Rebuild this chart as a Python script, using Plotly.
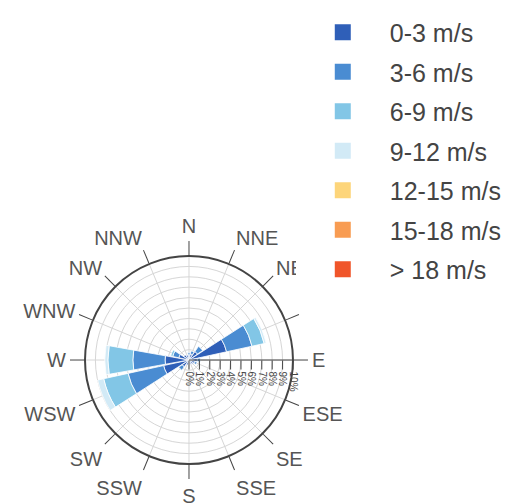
import plotly.graph_objects as go

directions = ["N", "NNE", "NE", "ENE", "E", "ESE", "SE", "SSE",
              "S", "SSW", "SW", "WSW", "W", "WNW", "NW", "NNW"]
direction_labels = ["N", "NNE", "NE", "", "E", "ESE", "SE", "SSE",
                    "S", "SSW", "SW", "WSW", "W", "WNW", "NW", "NNW"]

speed_bins = ["0-3 m/s", "3-6 m/s", "6-9 m/s", "9-12 m/s",
              "12-15 m/s", "15-18 m/s", "> 18 m/s"]

bin_colors = ["#2f5fb8", "#4a8cd2", "#82c6e6", "#d2eaf6",
              "#fdd57a", "#f89c52", "#f0552a"]

# frequency (%) per direction, one list per speed bin
freq_0_3 = [0.5, 0.6, 1.0, 3.7, 0.8, 0.6, 0.5, 0.4, 0.4, 0.5, 0.8, 2.5, 2.3, 1.0, 0.6, 0.5]
freq_3_6 = [0.2, 0.3, 0.6, 2.5, 0.3, 0.2, 0.0, 0.0, 0.0, 0.0, 0.4, 3.5, 3.1, 0.6, 0.0, 0.0]
freq_6_9 = [0.0, 0.0, 0.0, 1.2, 0.0, 0.0, 0.0, 0.0, 0.0, 0.0, 0.0, 2.4, 2.4, 0.2, 0.0, 0.0]
freq_9_12 = [0.0, 0.0, 0.0, 0.2, 0.0, 0.0, 0.0, 0.0, 0.0, 0.0, 0.0, 0.6, 0.3, 0.0, 0.0, 0.0]
freq_12_15 = [0.0] * 16
freq_15_18 = [0.0] * 16
freq_18_up = [0.0] * 16

series = [freq_0_3, freq_3_6, freq_6_9, freq_9_12, freq_12_15, freq_15_18, freq_18_up]

radial_ticks = [0, 1, 2, 3, 4, 5, 6, 7, 8, 9, 10]
radial_labels = [f"{v}%" for v in radial_ticks]

fig = go.Figure()
for name, color, values in zip(speed_bins, bin_colors, series):
    fig.add_trace(go.Barpolar(
        r=values,
        theta=directions,
        name=name,
        legendgroup=name,
        showlegend=False,
        marker=dict(color=color, line=dict(width=0.8, color="white")),
    ))

# legend keys: square swatches, one per speed bin (no plotted points)
for name, color in zip(speed_bins, bin_colors):
    fig.add_trace(go.Scatterpolar(
        r=[None],
        theta=[None],
        mode="markers",
        name=name,
        legendgroup=name,
        showlegend=True,
        marker=dict(symbol="square", size=16, color=color),
        hoverinfo="skip",
    ))

fig.update_layout(
    width=518,
    height=503,
    margin=dict(l=0, r=0, t=0, b=0),
    paper_bgcolor="white",
    font=dict(family="Liberation Sans, Arial, sans-serif", color="#444"),
    barmode="stack",
    showlegend=True,
    legend=dict(
        x=0.571, y=0.981, xanchor="left", yanchor="top",
        font=dict(size=25, color="#444"),
        itemwidth=84,
        tracegroupgap=4,
        bgcolor="white",
    ),
    polar=dict(
        domain=dict(x=[0.1641, 0.5656], y=[0.0775, 0.491]),
        bgcolor="white",
        angularaxis=dict(
            direction="clockwise",
            rotation=90,
            tickvals=directions,
            ticktext=direction_labels,
            showline=True,
            linecolor="#444",
            linewidth=2,
            ticks="outside",
            ticklen=14,
            tickcolor="#444",
            gridcolor="#d6d6d6",
            tickfont=dict(size=20, color="#555"),
        ),
        radialaxis=dict(
            range=[0, 10],
            tickvals=radial_ticks,
            ticktext=radial_labels,
            tickangle=90,
            showline=True,
            linecolor="#444",
            ticks="outside",
            ticklen=9,
            tickcolor="#444",
            gridcolor="#d6d6d6",
            tickfont=dict(size=10, color="#444"),
        ),
    ),
)

fig.write_html("out.html")
